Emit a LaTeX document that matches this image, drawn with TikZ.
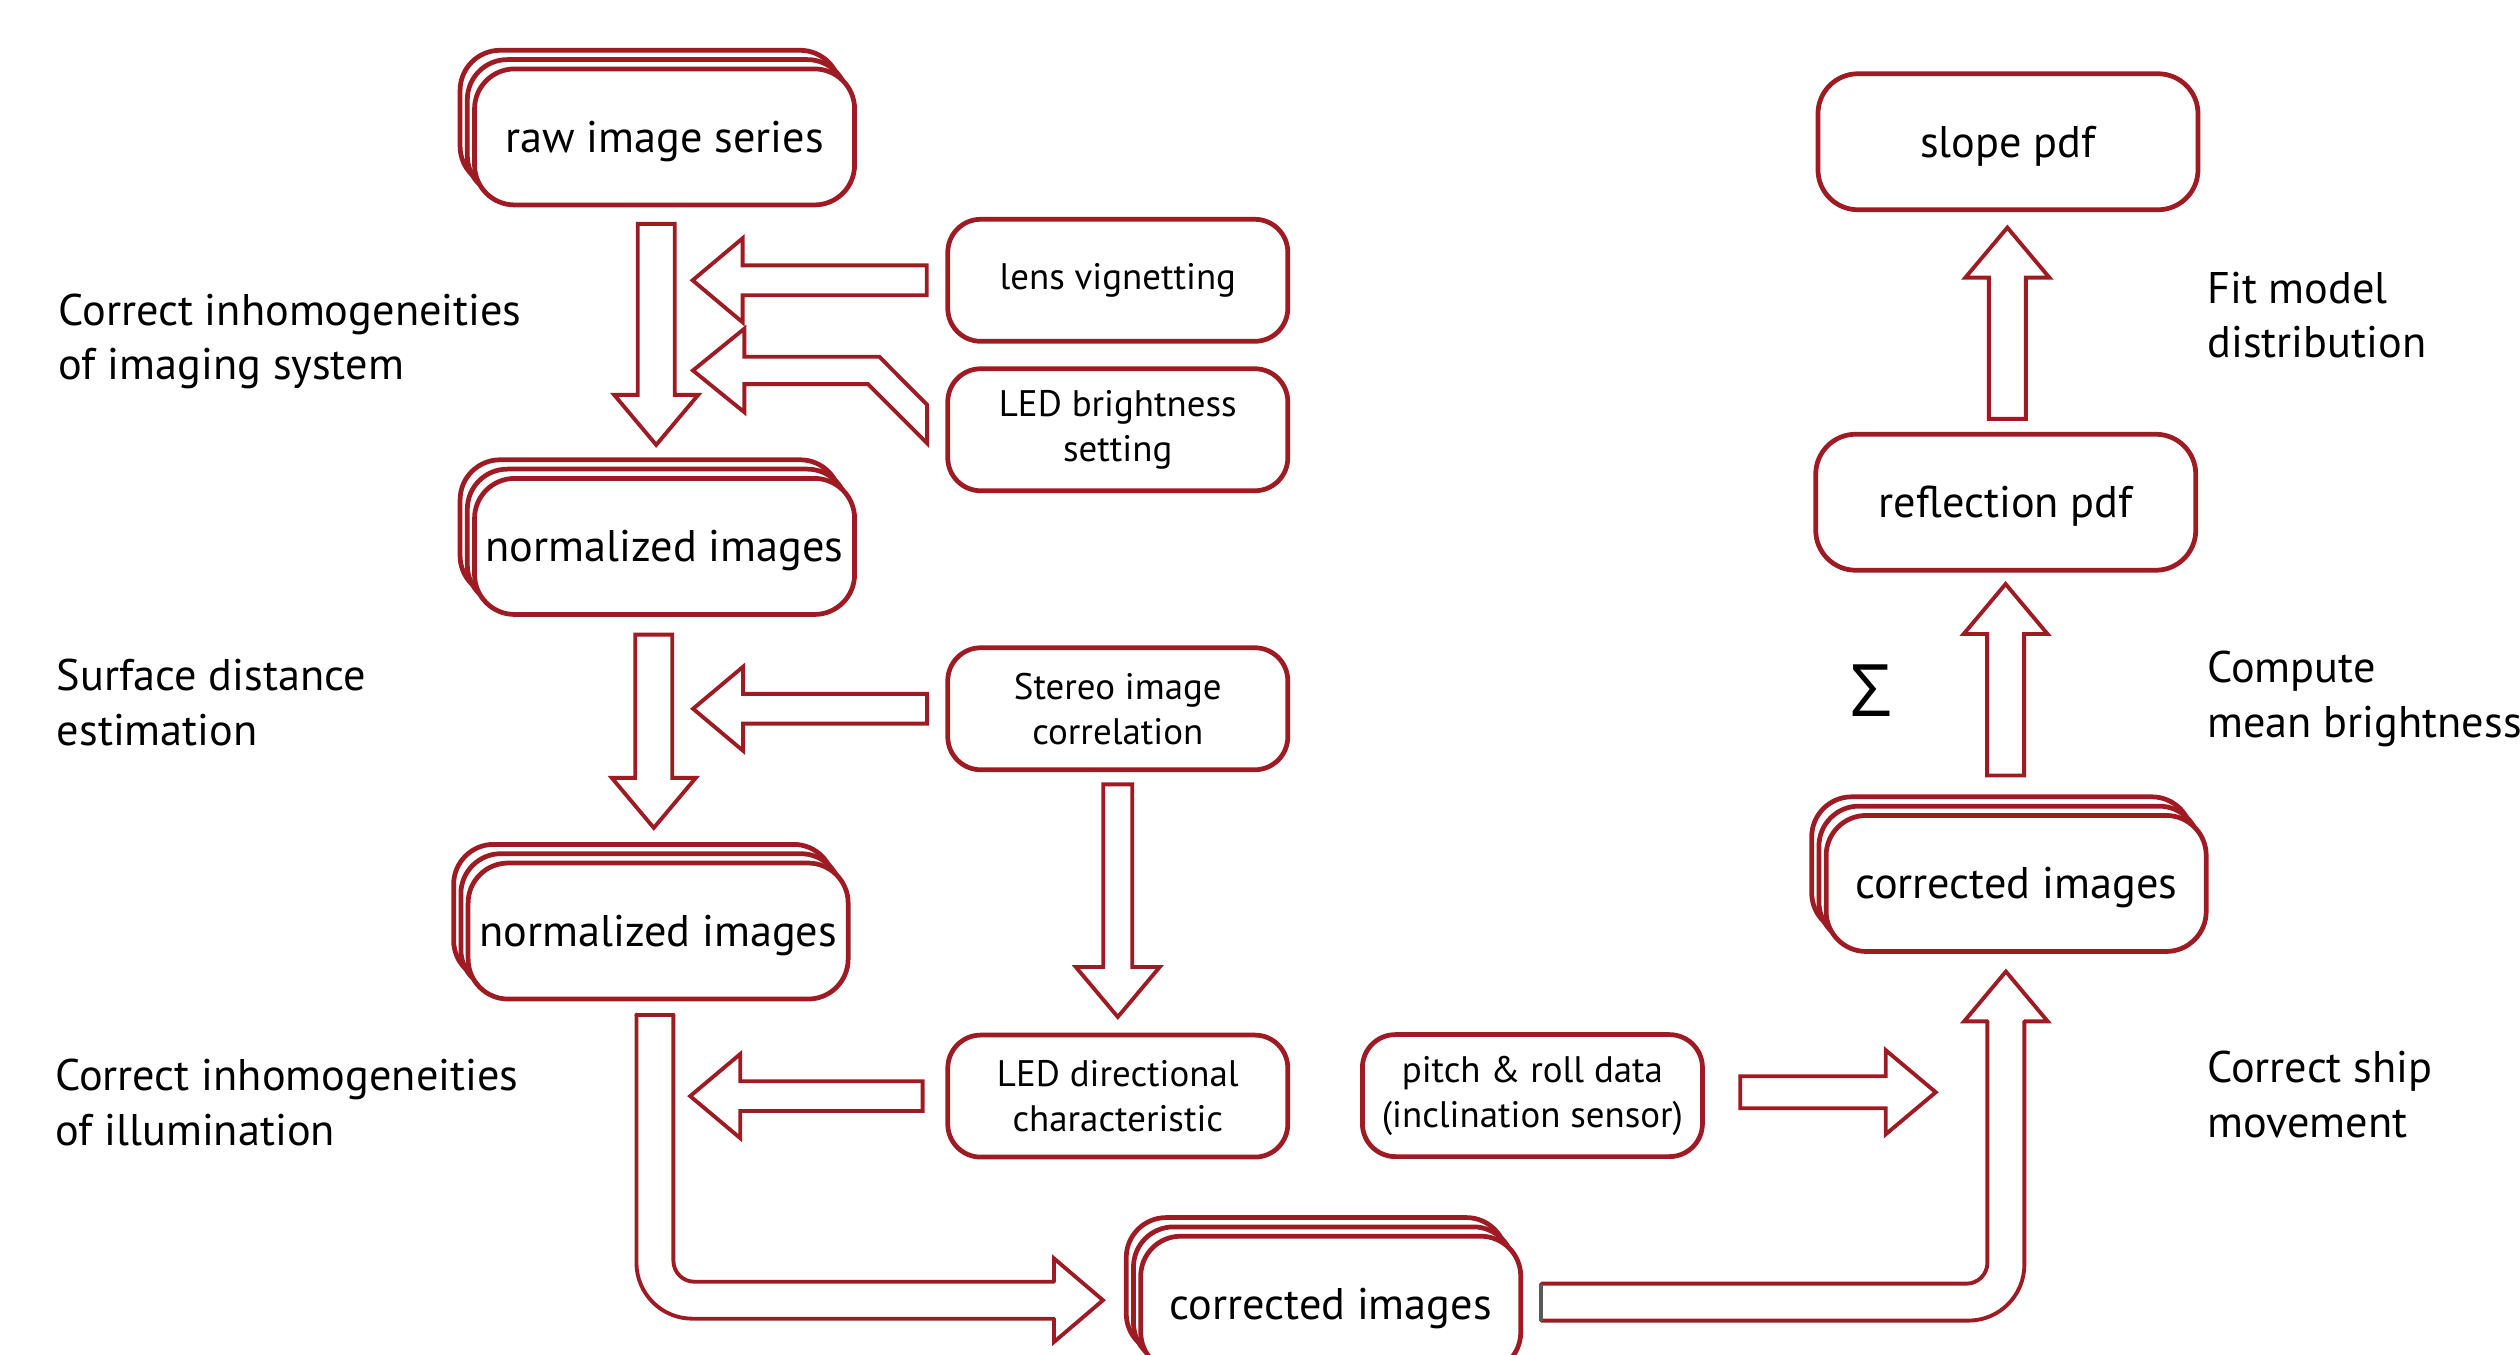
\documentclass[tikz,border=0pt]{standalone}
\usepackage{fontspec}
\setmainfont{PT Sans}
\newfontfamily\sigmafont{Open Sans}
\usetikzlibrary{calc}

\definecolor{darkred}{RGB}{158,27,35}
\newcommand\bigfont{\fontsize{12.6}{15.5}\selectfont}
\newcommand\smallfont{\fontsize{10.5}{12.8}\selectfont}

\tikzset{
  barrow/.style={draw=darkred, line width=1.1pt, line cap=round},
  stackbox/.style={draw=darkred, line width=1.35pt, fill=white, rounded corners=0.4cm,
    minimum width=3.80cm, minimum height=1.36cm, inner sep=0pt, font=\bigfont,
    text height=10pt, text depth=1.3pt},
  inbox/.style={draw=darkred, line width=1.35pt, fill=white, rounded corners=0.33cm,
    minimum width=3.40cm, minimum height=1.22cm, inner sep=0pt, align=center, font=\smallfont},
  sidetext/.style={anchor=west, align=left, inner sep=0pt, font=\bigfont}
}

% three stacked boxes: name, position, label
\newcommand\imgstack[3]{%
  \node[stackbox] (#1-3) at ($(#2)+(-0.09,-0.116)$) {};
  \node[stackbox] (#1-2) at ($(#2)+(-0.045,-0.058)$) {};
  \node[stackbox] (#1) at (#2) {#3};
}

% hollow block arrow: [half shaft width] tail, tip
\newcommand\fatarrow[3][0.185cm]{%
  \coordinate (fab) at ($(#3)!0.5cm!(#2)$);
  \draw[barrow] ($(#2)!#1!90:(#3)$) -- ($(fab)!#1!90:(#3)$) -- ($(fab)!0.42cm!90:(#3)$)
    -- (#3) -- ($(fab)!0.42cm!-90:(#3)$) -- ($(fab)!#1!-90:(#3)$) -- ($(#2)!#1!-90:(#3)$) -- cycle;
}

\begin{document}
\begin{tikzpicture}[x=1.607cm,y=-1.607cm]
\useasboundingbox (0,0) rectangle (15.68,8.43);

\imgstack{raw}{4.135,0.852}{raw image series}
\imgstack{norm1}{4.135,3.40}{normalized images}
\imgstack{norm2}{4.095,5.793}{normalized images}
\imgstack{corrB}{8.28,8.115}{corrected images}
\imgstack{corrR}{12.545,5.497}{corrected images}
\node[stackbox] (slope) at (12.494,0.882) {slope pdf};
\node[stackbox] (refl) at (12.48,3.125) {reflection pdf};

\node[inbox] (lens) at (6.955,1.744) {lens vignetting};
\node[inbox] (ledb) at (6.955,2.674) {LED brightness\\setting};
\node[inbox] (stereo) at (6.955,4.41) {Stereo image\\correlation};
\node[inbox] (leddir) at (6.955,6.82) {LED directional\\characteristic};
\node[inbox] (pitch) at (9.535,6.817) {pitch \& roll data\\(inclination sensor)};

\node[sidetext] (lbl1) at (0.36,2.125) {Correct inhomogeneities\\of imaging system};
\node[sidetext] (lbl2) at (0.35,4.37) {Surface distance\\estimation};
\node[sidetext] (lbl3) at (0.34,6.86) {Correct inhomogeneities\\of illumination};
\node[sidetext] (lbl4) at (13.73,1.96) {Fit model\\distribution};
\node[sidetext] (lbl5) at (13.73,4.35) {Compute\\mean brightness};
\node[sidetext] (lbl6) at (13.73,6.81) {Correct ship\\movement};
\node[font=\sigmafont\fontsize{20.6}{24}\selectfont, inner sep=0pt] (sum) at (11.643,4.30) {Σ};

% down the left column
\coordinate (a1) at ($(raw.south)+(-0.052,0.103)$);
\coordinate (a2) at ($(a1 |- norm1.north)+(0,-0.194)$);
\fatarrow{a1}{a2}
\coordinate (d1) at ($(norm1.south)+(-0.067,0.111)$);
\coordinate (d2) at ($(d1 |- norm2.north)+(0,-0.204)$);
\fatarrow{d1}{d2}

% inputs from the right
\coordinate (b1) at ($(lens.west)+(-0.116,0)$);
\coordinate (b2) at ($(lens.west)+(-1.573,0)$);
\fatarrow[0.149cm]{b1}{b2}
\coordinate (c1) at ($(stereo.west)+(-0.114,0)$);
\coordinate (c2) at ($(stereo.west)+(-1.57,0)$);
\fatarrow[0.149cm]{c1}{c2}
\coordinate (f1) at ($(leddir.west)+(-0.142,0)$);
\coordinate (f2) at ($(leddir.west)+(-1.588,0)$);
\fatarrow[0.149cm]{f1}{f2}
\coordinate (e1) at ($(stereo.south)+(0,0.076)$);
\coordinate (e2) at ($(e1 |- leddir.north)+(0,-0.098)$);
\fatarrow[0.145cm]{e1}{e2}
\coordinate (lbt) at ($(ledb.west)+(-1.571,-0.369)$);
\draw[barrow] (lbt) -- ++(0.32,-0.26) -- ++(0,0.175) -- ++(0.84,0) -- ++(0.297,0.298)
  -- ++(0,0.24) -- ++(-0.368,-0.368) -- ++(-0.769,0) -- ++(0,0.175) -- cycle;

% bend to the bottom stack
\coordinate (g0) at ($(norm2.south)+(-0.02,0.082)$);
\coordinate (g3) at ($(corrB.west)+(-0.22,-0.025)$);
\coordinate (gc) at (g0 |- g3);
\coordinate (gb) at ($(g3)+(-0.305,0)$);
\draw[barrow, rounded corners=0.56cm] ($(g0)+(-0.115,0)$) -- ($(gc)+(-0.115,0.115)$) -- ($(gb)+(0,0.115)$);
\draw[barrow, rounded corners=0.21cm] ($(g0)+(0.115,0)$) -- ($(gc)+(0.115,-0.115)$) -- ($(gb)+(0,-0.115)$);
\draw[barrow] ($(gb)+(0,0.115)$) -- ($(gb)+(0,0.26)$) -- (g3) -- ($(gb)+(0,-0.26)$) -- ($(gb)+(0,-0.115)$);
\draw[barrow] ($(g0)+(-0.115,0)$) -- ($(g0)+(0.115,0)$);

% bend up to the right stack
\coordinate (i0) at ($(corrB.east)+(0.113,-0.013)$);
\coordinate (i3) at ($(corrR.south)+(-0.064,0.11)$);
\coordinate (ic) at (i3 |- i0);
\coordinate (ib) at ($(i3)+(0,0.31)$);
\draw[barrow, rounded corners=0.56cm] ($(i0)+(0,0.115)$) -- ($(ic)+(0.115,0.115)$) -- ($(ib)+(0.115,0)$);
\draw[barrow, rounded corners=0.21cm] ($(i0)+(0,-0.115)$) -- ($(ic)+(-0.115,-0.115)$) -- ($(ib)+(-0.115,0)$);
\draw[barrow] ($(ib)+(-0.115,0)$) -- ($(ib)+(-0.26,0)$) -- (i3) -- ($(ib)+(0.26,0)$) -- ($(ib)+(0.115,0)$);
\draw[line width=1.1pt, black!65] ($(i0)+(0,-0.115)$) -- ($(i0)+(0,0.115)$);

% right column
\coordinate (h1) at ($(pitch.east)+(0.22,-0.021)$);
\coordinate (h2) at ($(h1)+(1.217,0)$);
\fatarrow[0.16cm]{h1}{h2}
\coordinate (k1) at ($(corrR.north)+(-0.066,-0.234)$);
\coordinate (k2) at ($(k1 |- refl.south)+(0,0.071)$);
\fatarrow{k1}{k2}
\coordinate (j1) at ($(refl.north)+(0.01,-0.081)$);
\coordinate (j2) at ($(j1 |- slope.south)+(0,0.096)$);
\fatarrow{j1}{j2}
\end{tikzpicture}
\end{document}
